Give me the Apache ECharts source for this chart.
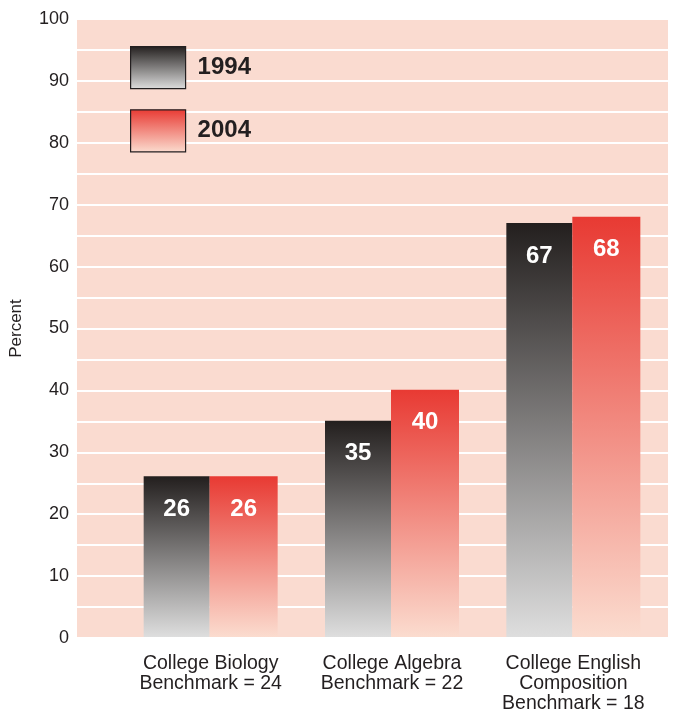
<!DOCTYPE html>
<html><head><meta charset="utf-8">
<script src="https://cdn.jsdelivr.net/npm/echarts@6/dist/echarts.min.js"></script>
<style>html,body{margin:0;padding:0;background:#fff}#c{width:673px;height:714px}</style>
</head><body><div id="c"></div>
<script>
const categories = ['College Biology\nBenchmark = 24', 'College Algebra\nBenchmark = 22', 'College English\nComposition\nBenchmark = 18'];
const seriesNames = ['1994', '2004'];
const values1994 = [26, 35, 67];
const values2004 = [26, 40, 68];
const yTicks = [0, 10, 20, 30, 40, 50, 60, 70, 80, 90, 100];

const chart = echarts.init(document.getElementById('c'), null, {renderer: 'canvas'});
const FONT = '"Liberation Sans", Arial, Helvetica, sans-serif';
const grad = (a, b) => new echarts.graphic.LinearGradient(0, 0, 0, 1, [{offset: 0, color: a}, {offset: 1, color: b}]);
const g1994 = grad('#231f1e', '#dedede');
const g2004 = grad('#e83a33', '#fbdccf');

chart.setOption({
  animation: false,
  grid: [
    {left: 77, right: 5, top: 19, bottom: 76, show: true, backgroundColor: '#fadbd0', borderWidth: 0},
    {left: 120, right: 9, top: 19, bottom: 76}
  ],
  legend: {
    orient: 'vertical', left: 125, top: 41, itemWidth: 55, itemHeight: 42, itemGap: 20,
    icon: 'rect',
    data: seriesNames,
    itemStyle: {borderColor: '#231f20', borderWidth: 1.2},
    textStyle: {fontFamily: FONT, fontSize: 24, fontWeight: 'bold', color: '#231f20', padding: [0, 0, 0, 7]}
  },
  xAxis: [
    {gridIndex: 0, type: 'category', data: [''], show: false},
    {gridIndex: 1, type: 'category', data: categories,
     axisLine: {show: false}, axisTick: {show: false},
     axisLabel: {fontFamily: FONT, fontSize: 19.5, lineHeight: 20, color: '#231f20', margin: 17, interval: 0}}
  ],
  yAxis: [
    {gridIndex: 0, type: 'value', min: 0, max: 100, interval: 5,
     name: 'Percent', nameLocation: 'middle', nameGap: 52,
     nameTextStyle: {fontFamily: FONT, fontSize: 17, color: '#231f20'},
     axisLine: {show: false}, axisTick: {show: false},
     splitLine: {show: true, lineStyle: {color: '#ffffff', width: 2}},
     axisLabel: {fontFamily: FONT, fontSize: 18, color: '#231f20', margin: 8,
       formatter: v => yTicks.includes(v) ? String(v) : ''}},
    {gridIndex: 1, type: 'value', min: 0, max: 100, show: false, splitLine: {show: false}}
  ],
  series: [
    {name: seriesNames[0], type: 'bar', xAxisIndex: 1, yAxisIndex: 1, data: values1994,
     barWidth: 66, barGap: '0%', itemStyle: {color: g1994},
     label: {show: true, position: 'insideTop', distance: 21, fontFamily: FONT, fontSize: 24, fontWeight: 'bold', color: '#fff'}},
    {name: seriesNames[1], type: 'bar', xAxisIndex: 1, yAxisIndex: 1, data: values2004,
     barWidth: 68, barGap: '0%', itemStyle: {color: g2004},
     label: {show: true, position: 'insideTop', distance: 21, fontFamily: FONT, fontSize: 24, fontWeight: 'bold', color: '#fff'}}
  ]
});
</script></body></html>
